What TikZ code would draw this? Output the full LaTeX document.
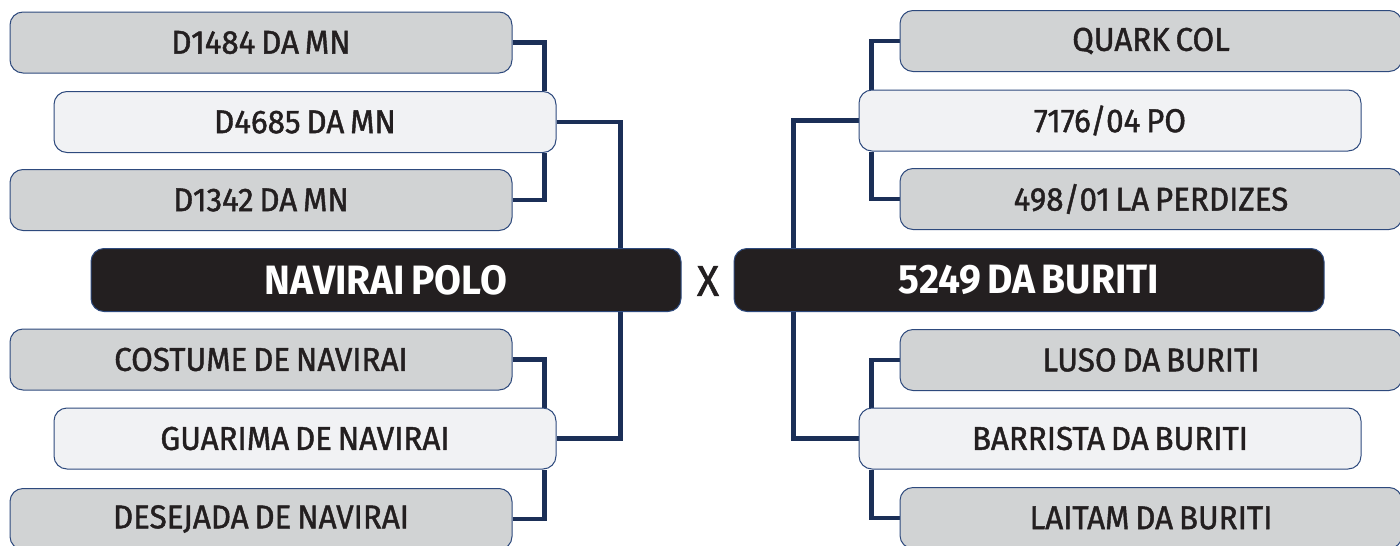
\documentclass[tikz,border=0pt]{standalone}
\usepackage{fontspec}
\setmainfont{Fira Sans}[FakeStretch=0.95, WordSpace=0.7]
\newfontfamily\seedfont{Fira Sans}[FakeStretch=0.95, WordSpace=0.7, FakeBold=1.3]
\usetikzlibrary{positioning,backgrounds}
\definecolor{wire}{HTML}{1B2F57}
\definecolor{rim}{HTML}{2E4A7D}
\definecolor{seedfill}{HTML}{D1D3D4}
\definecolor{pickfill}{HTML}{F1F2F4}
\definecolor{teamfill}{HTML}{231F20}
\definecolor{ink}{HTML}{231F20}

\begin{document}
\begin{tikzpicture}[
  x=1pt, y=-1pt,
  seed/.style={draw=rim, line width=1pt, rounded corners=13pt, fill=seedfill, text=ink,
    minimum width=502pt, minimum height=61pt, inner sep=0pt, font=\seedfont\fontsize{33}{36}\selectfont},
  pick/.style={seed, fill=pickfill},
  team/.style={draw=rim, line width=1pt, rounded corners=13pt, fill=teamfill, text=white,
    minimum width=590pt, minimum height=63pt, inner sep=0pt, font=\fontsize{41}{44}\selectfont\bfseries},
  link/.style={draw=wire, line width=4.5pt},
]
\useasboundingbox (0,0) rectangle (1400,546);
% left side: navirai polo and its line
\node[seed] (l1) at (261,42.5)  {D1484 DA MN};
\node[pick] (l2) at (305,122)   {D4685 DA MN};
\node[seed] (l3) at (261,200)   {D1342 DA MN};
\node[team] (tl) at (386,280)   {NAVIRAI POLO};
\node[seed] (l4) at (261,359.5) {COSTUME DE NAVIRAI};
\node[pick] (l5) at (305,438.5) {GUARIMA DE NAVIRAI};
\node[seed] (l6) at (261,519)   {DESEJADA DE NAVIRAI};
% versus
\node[font=\seedfont\fontsize{43}{44}\selectfont, text=ink] (vs) at (708,281) {X};
% right side: 5249 da buriti and its line
\node[seed] (r1) at (1151,41)    {QUARK COL};
\node[pick] (r2) at (1110,120.5) {7176/04 PO};
\node[seed] (r3) at (1151,199)   {498/01 LA PERDIZES};
\node[team] (tr) at (1029,280)   {5249 DA BURITI};
\node[seed] (r4) at (1151,360)   {LUSO DA BURITI};
\node[pick] (r5) at (1110,438.5) {BARRISTA DA BURITI};
\node[seed] (r6) at (1151,518)   {LAITAM DA BURITI};

% --- connectors, behind the boxes ---
\begin{scope}[on background layer]
\draw[link] (l1.east) -| ([xshift=-12pt]l2.north east);
\draw[link] (l3.east) -| ([xshift=-12pt]l2.south east);
\draw[link] (l2.east) -| ([xshift=-61pt]tl.north east);
\draw[link] ([xshift=-61pt]tl.south east) |- (l5.east);
\draw[link] (l4.east) -| ([xshift=-12pt]l5.north east);
\draw[link] (l6.east) -| ([xshift=-12pt]l5.south east);
\draw[link] (r1.west) -| ([xshift=13pt]r2.north west);
\draw[link] (r3.west) -| ([xshift=13pt]r2.south west);
\draw[link] (r2.west) -| ([xshift=60pt]tr.north west);
\draw[link] ([xshift=60pt]tr.south west) |- (r5.west);
\draw[link] (r4.west) -| ([xshift=13pt]r5.north west);
\draw[link] (r6.west) -| ([xshift=13pt]r5.south west);
\end{scope}
\end{tikzpicture}
\end{document}
